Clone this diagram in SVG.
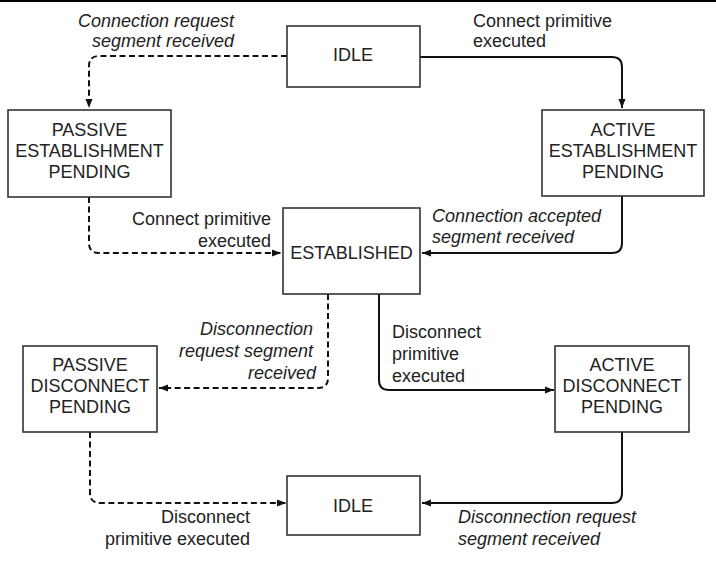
<svg xmlns="http://www.w3.org/2000/svg" width="716" height="574" viewBox="0 0 716 574">
<style>
.box{fill:#fff;stroke:#333;stroke-width:1.6}
.t{font-family:"Liberation Sans",Arial,sans-serif;font-size:18px;fill:#222}
.c{text-anchor:middle}
.e{text-anchor:end}
.i{font-style:italic}
.ln{fill:none;stroke:#111;stroke-width:2}
.d{stroke-dasharray:6 3.5}
</style>
<defs>
<marker id="ah" markerUnits="userSpaceOnUse" markerWidth="10" markerHeight="8" refX="9" refY="4" orient="auto">
<path d="M0,0.5 L9,4 L0,7.5 Z" fill="#111"/>
</marker>
</defs>
<rect x="0" y="0" width="716" height="2" fill="#000"/>
<g id="connectors">
<path class="ln d" d="M287,56 H99 Q89,56 89,66 V108" marker-end="url(#ah)"/>
<path class="ln" d="M420,57 H612 Q622,57 622,67 V108" marker-end="url(#ah)"/>
<path class="ln d" d="M89,197 V243 Q89,253 99,253 H281" marker-end="url(#ah)"/>
<path class="ln" d="M622,196 V243 Q622,253 612,253 H422" marker-end="url(#ah)"/>
<path class="ln d" d="M328,294 V378 Q328,388 318,388 H159" marker-end="url(#ah)"/>
<path class="ln" d="M379,294 V380 Q379,390 389,390 H554" marker-end="url(#ah)"/>
<path class="ln d" d="M90,432 V493 Q90,503 100,503 H286" marker-end="url(#ah)"/>
<path class="ln" d="M622,432 V493 Q622,503 612,503 H422" marker-end="url(#ah)"/>
</g>
<g id="labels">
<text class="t i" x="78" y="27">Connection request</text>
<text class="t i" x="92" y="47">segment received</text>
<text class="t" x="473" y="27">Connect primitive</text>
<text class="t" x="473" y="47">executed</text>
<text class="t e" x="271" y="225">Connect primitive</text>
<text class="t e" x="271" y="247">executed</text>
<text class="t i" x="432" y="222">Connection accepted</text>
<text class="t i" x="432" y="243">segment received</text>
<text class="t i e" x="313" y="335">Disconnection</text>
<text class="t i e" x="313" y="357">request segment</text>
<text class="t i e" x="316" y="379">received</text>
<text class="t" x="392" y="338">Disconnect</text>
<text class="t" x="392" y="360">primitive</text>
<text class="t" x="392" y="382">executed</text>
<text class="t e" x="250" y="523">Disconnect</text>
<text class="t e" x="250" y="545">primitive executed</text>
<text class="t i" x="458" y="523">Disconnection request</text>
<text class="t i" x="458" y="545">segment received</text>
</g>
<g id="idle-top">
<rect class="box" x="287" y="26" width="133" height="61"/>
<text class="t c" x="353" y="61">IDLE</text>
</g>
<g id="passive-establishment-pending">
<rect class="box" x="8" y="110" width="163" height="87"/>
<text class="t c" x="89.5" y="136">PASSIVE</text>
<text class="t c" x="89.5" y="157">ESTABLISHMENT</text>
<text class="t c" x="89.5" y="178">PENDING</text>
</g>
<g id="active-establishment-pending">
<rect class="box" x="542" y="110" width="162" height="86"/>
<text class="t c" x="623" y="136">ACTIVE</text>
<text class="t c" x="623" y="157">ESTABLISHMENT</text>
<text class="t c" x="623" y="178">PENDING</text>
</g>
<g id="established">
<rect class="box" x="283" y="208" width="137" height="86"/>
<text class="t c" x="351.5" y="259">ESTABLISHED</text>
</g>
<g id="passive-disconnect-pending">
<rect class="box" x="23" y="346" width="134" height="86"/>
<text class="t c" x="90" y="371">PASSIVE</text>
<text class="t c" x="90" y="392">DISCONNECT</text>
<text class="t c" x="90" y="413">PENDING</text>
</g>
<g id="active-disconnect-pending">
<rect class="box" x="555" y="346" width="134" height="86"/>
<text class="t c" x="622" y="371">ACTIVE</text>
<text class="t c" x="622" y="392">DISCONNECT</text>
<text class="t c" x="622" y="413">PENDING</text>
</g>
<g id="idle-bottom">
<rect class="box" x="287" y="476" width="133" height="59"/>
<text class="t c" x="353" y="512">IDLE</text>
</g>
</svg>
